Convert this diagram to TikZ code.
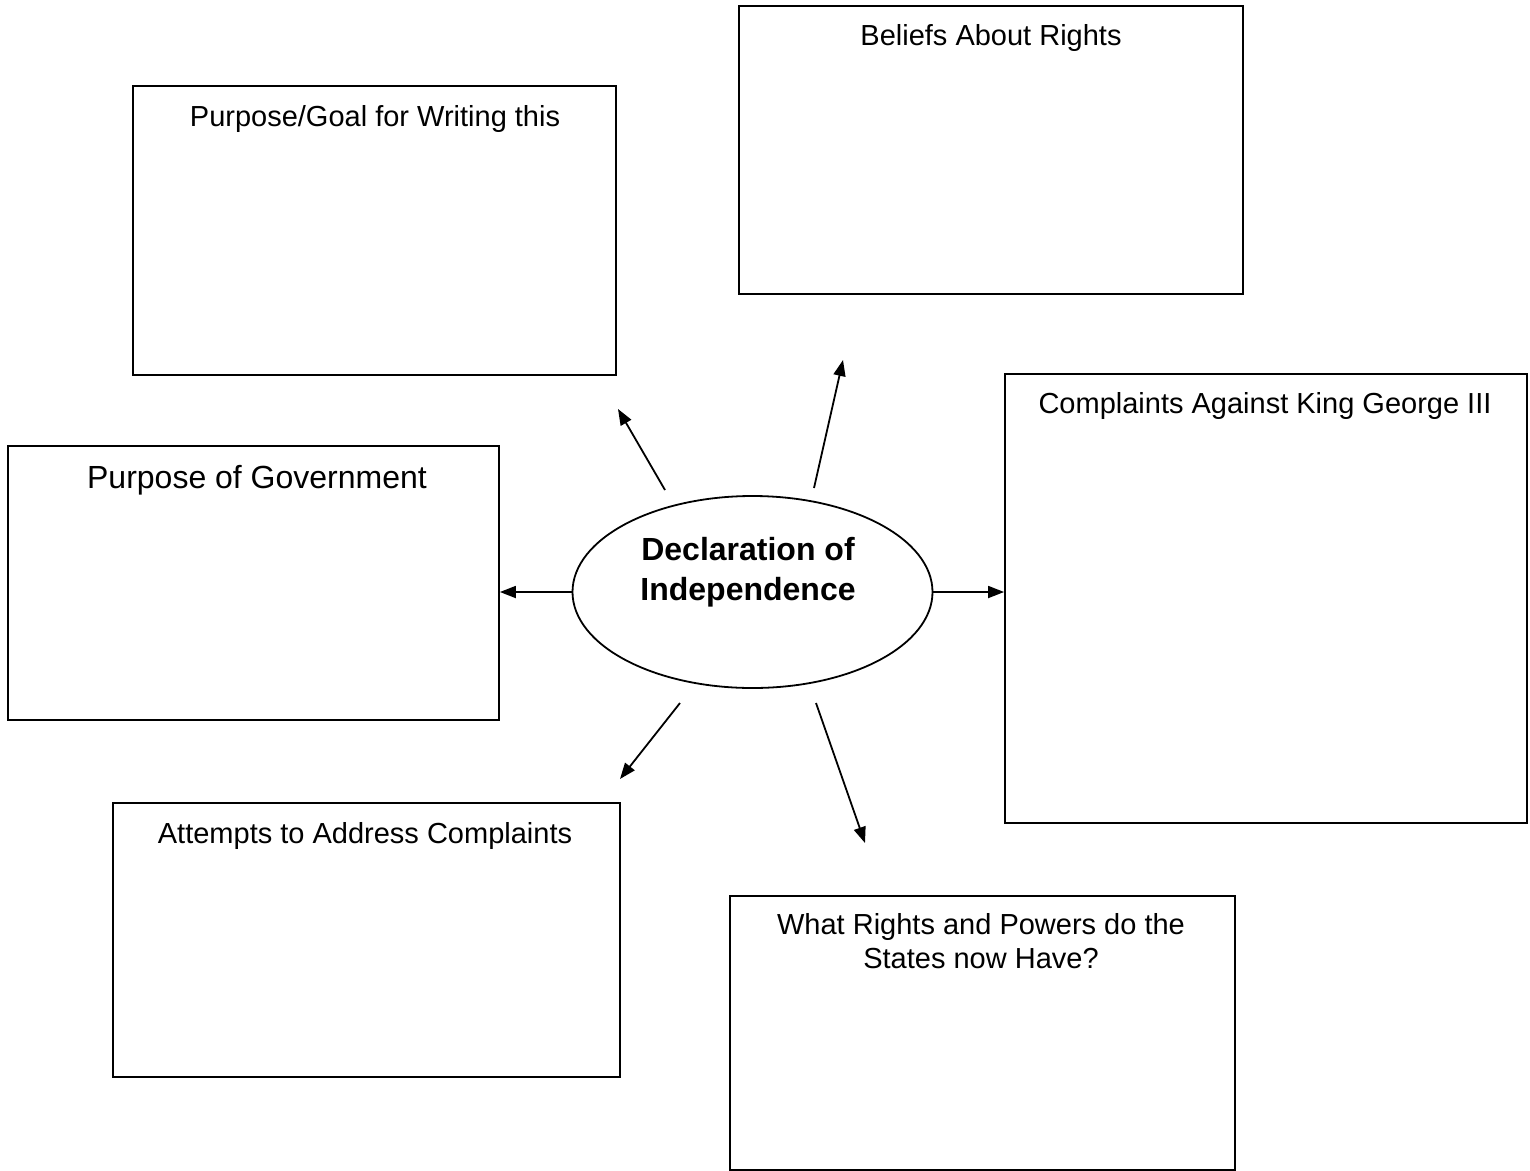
\documentclass[tikz,border=0pt]{standalone}
\usepackage{fontspec}
\setmainfont{Liberation Sans}
\usetikzlibrary{arrows.meta,shapes.geometric}
\begin{document}
\begin{tikzpicture}[x=1pt,y=-1pt,
  box/.style={draw,line width=1.8pt,rectangle,inner sep=0pt},
  title/.style={anchor=base,inner sep=0pt,font=\fontsize{29}{34}\selectfont},
  bigtitle/.style={anchor=base,inner sep=0pt,font=\fontsize{32}{38}\selectfont},
  conn/.style={line width=1.8pt,-{Triangle[length=16pt,width=12pt]}}]
\useasboundingbox[fill=white] (0,0) rectangle (1530,1170);
% boxes
\node[box,minimum width=483pt,minimum height=289pt] (goal) at (374.5,230.5) {};
\node[box,minimum width=504pt,minimum height=288pt] (rights) at (991,150) {};
\node[box,minimum width=522pt,minimum height=449pt] (king) at (1266,598.5) {};
\node[box,minimum width=491pt,minimum height=274pt] (gov) at (253.5,583) {};
\node[box,minimum width=507pt,minimum height=274pt] (attempts) at (366.5,940) {};
\node[box,minimum width=505pt,minimum height=274pt] (states) at (982.5,1033) {};
% titles
\node[title] (goalt) at (375,126) {Purpose/Goal for Writing this};
\node[title] (rightst) at (991,45) {Beliefs About Rights};
\node[title] (kingt) at (1265,413) {Complaints Against King George III};
\node[bigtitle] (govt) at (257,488) {Purpose of Government};
\node[title] (attemptst) at (365,843) {Attempts to Address Complaints};
\node[title] (statest1) at (981,934) {What Rights and Powers do the};
\node[title] (statest2) at (981,968) {States now Have?};
% centre
\node[draw,ellipse,line width=1.8pt,minimum width=360pt,minimum height=192pt,inner sep=0pt] (doi) at (752.5,592) {};
\node[anchor=base,inner sep=0pt,font=\fontsize{32}{38}\selectfont\bfseries] (doi1) at (748,560) {Declaration of};
\node[anchor=base,inner sep=0pt,font=\fontsize{32}{38}\selectfont\bfseries] (doi2) at (748,600) {Independence};
% free ends
\coordinate (s1) at (665,490);
\coordinate (e1) at (618,409);
\coordinate (s2) at (814,488);
\coordinate (e2) at (843,360);
\coordinate (s3) at (680,703);
\coordinate (e3) at (620,779);
\coordinate (s4) at (816,703);
\coordinate (e4) at (865,843);
% connectors
\draw[conn] (doi.west) -- (doi.west -| gov.east);
\draw[conn] (doi.east) -- (doi.east -| king.west);
\draw[conn] (s1) -- (e1);
\draw[conn] (s2) -- (e2);
\draw[conn] (s3) -- (e3);
\draw[conn] (s4) -- (e4);
\end{tikzpicture}
\end{document}
